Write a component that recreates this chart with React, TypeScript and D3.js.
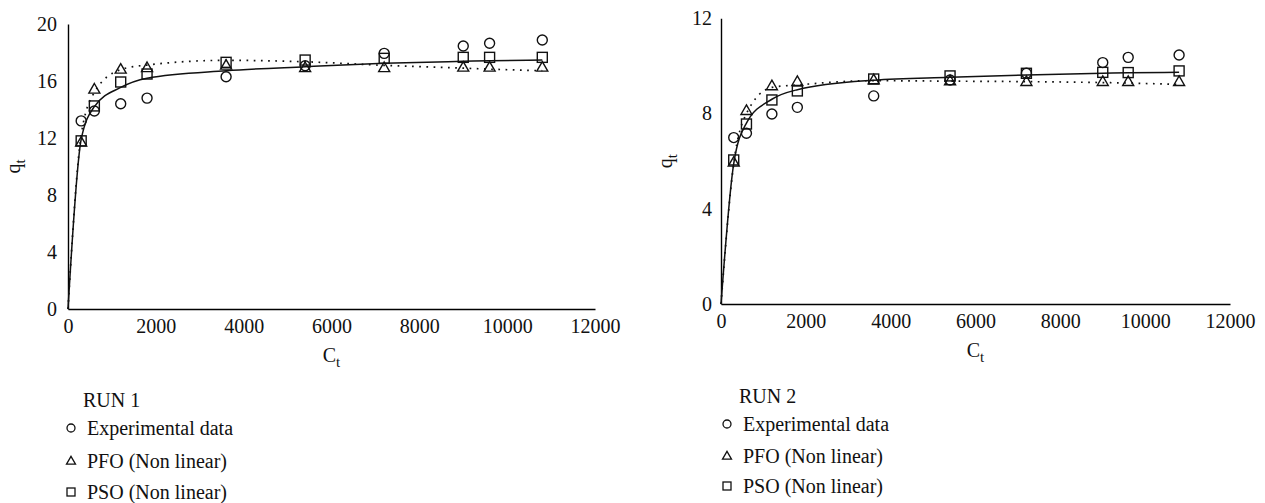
import React, { useEffect, useRef } from 'react';
import * as d3 from 'd3';

// sampling times (x) of the markers
const times = [300, 600, 1200, 1800, 3600, 5400, 7200, 9000, 9600, 10800];

// RUN 1
const run1Exp = [13.2, 13.9, 14.4, 14.8, 16.3, 17.07, 17.94, 18.46, 18.65, 18.88];
const run1Pfo = [11.7, 15.42, 16.82, 16.93, 17.1, 16.93, 16.93, 16.96, 16.96, 16.96];
const run1Pso = [11.8, 14.25, 15.93, 16.49, 17.31, 17.47, 17.59, 17.66, 17.66, 17.66];

// RUN 2
const run2Exp = [6.99, 7.17, 7.98, 8.26, 8.74, 9.41, 9.69, 10.14, 10.36, 10.46];
const run2Pfo = [5.95, 8.12, 9.16, 9.34, 9.41, 9.37, 9.34, 9.34, 9.34, 9.34];
const run2Pso = [6.05, 7.56, 8.57, 8.95, 9.45, 9.58, 9.69, 9.73, 9.72, 9.79];

// fitted lines
const curveTimes = [0, 300, 600, 1200, 1800, 3600, 5400, 7200, 9000, 9600, 10800];
const run1PsoLine = [0, 11.9, 14.2, 15.55, 16.2, 16.72, 17.0, 17.24, 17.38, 17.42, 17.47];
const run1PfoLine = [0, 12.2, 15.2, 16.8, 17.12, 17.45, 17.35, 17.1, 16.9, 16.83, 16.72];
const run2PsoLine = [0, 5.9, 7.6, 8.6, 9.0, 9.4, 9.52, 9.62, 9.69, 9.71, 9.73];
const run2PfoLine = [0, 5.9, 8.0, 9.1, 9.2, 9.38, 9.36, 9.34, 9.3, 9.28, 9.22];

const xTicks = [0, 2000, 4000, 6000, 8000, 10000, 12000];
const run1YTicks = [0, 4, 8, 12, 16, 20];
const run2YTicks = [0, 4, 8, 12];

const legendLabels = ['Experimental data', 'PFO (Non linear)', 'PSO (Non linear)'];

const FONT = '"Liberation Serif", "Times New Roman", serif';
const FS = 20;

function drawMarker(g, kind, cx, cy, s) {
  if (kind === 'circle') {
    g.append('circle').attr('cx', cx).attr('cy', cy).attr('r', s / 2);
  } else if (kind === 'square') {
    g.append('rect').attr('x', cx - s / 2).attr('y', cy - s / 2).attr('width', s).attr('height', s);
  } else {
    const h = s * 0.87;
    g.append('path').attr(
      'd',
      `M${cx},${cy - h * 0.6}L${cx + s / 2},${cy + h * 0.4}L${cx - s / 2},${cy + h * 0.4}Z`
    );
  }
}

function drawPanel(svg, p) {
  const x = d3.scaleLinear().domain([0, 12000]).range([p.x0, p.x1]);
  const y = d3.scaleLinear().domain([0, p.yMax]).range([p.yBottom, p.yTop]);
  const root = svg.append('g');

  root
    .append('g')
    .attr('transform', `translate(0,${p.yBottom})`)
    .call(d3.axisBottom(x).tickValues(xTicks).tickFormat(d3.format('d')).tickSize(0).tickSizeOuter(0).tickPadding(10))
    .call((g) => g.select('.domain').attr('stroke', '#000').attr('stroke-width', 1.4))
    .call((g) => g.selectAll('text').attr('font-family', FONT).attr('font-size', FS).attr('fill', '#111'));

  root
    .append('g')
    .attr('transform', `translate(${p.x0},0)`)
    .call(d3.axisLeft(y).tickValues(p.yTicks).tickSize(0).tickSizeOuter(0).tickPadding(p.yPad))
    .call((g) => g.select('.domain').attr('stroke', '#000').attr('stroke-width', 1.4))
    .call((g) => g.selectAll('text').attr('font-family', FONT).attr('font-size', FS).attr('fill', '#111'));

  // axis titles
  const xt = root
    .append('text')
    .attr('x', (p.x0 + p.x1) / 2)
    .attr('y', p.yBottom + 53)
    .attr('text-anchor', 'middle')
    .attr('font-family', FONT)
    .attr('font-size', FS)
    .attr('fill', '#111');
  xt.append('tspan').text('C');
  xt.append('tspan').attr('font-size', 15).attr('dy', 5).text('t');

  const yt = root
    .append('text')
    .attr('transform', `translate(${p.qx},${(p.yTop + p.yBottom) / 2}) rotate(-90)`)
    .attr('text-anchor', 'middle')
    .attr('font-family', FONT)
    .attr('font-size', FS)
    .attr('fill', '#111');
  yt.append('tspan').text('q');
  yt.append('tspan').attr('font-size', 15).attr('dy', 5).text('t');

  const line = d3
    .line()
    .x((d) => x(d[0]))
    .y((d) => y(d[1]))
    .curve(d3.curveMonotoneX);

  root
    .append('path')
    .datum(curveTimes.map((t, i) => [t, p.pfoLine[i]]))
    .attr('d', line)
    .attr('fill', 'none')
    .attr('stroke', '#111')
    .attr('stroke-width', 1.7)
    .attr('stroke-dasharray', '1.7,5.5');

  root
    .append('path')
    .datum(curveTimes.map((t, i) => [t, p.psoLine[i]]))
    .attr('d', line)
    .attr('fill', 'none')
    .attr('stroke', '#111')
    .attr('stroke-width', 1.5);

  const marks = root.append('g').attr('fill', 'none').attr('stroke', '#111').attr('stroke-width', 1.4);
  times.forEach((t, i) => drawMarker(marks, 'square', x(t), y(p.pso[i]), 10));
  times.forEach((t, i) => drawMarker(marks, 'triangle', x(t), y(p.pfo[i]), 11));
  times.forEach((t, i) => drawMarker(marks, 'circle', x(t), y(p.exp[i]), 10));

  // legend
  const lg = root.append('g').attr('font-family', FONT).attr('font-size', FS).attr('fill', '#111');
  lg.append('text').attr('x', p.lx + 12).attr('y', p.ly + 7).text(p.run);
  const kinds = ['circle', 'triangle', 'square'];
  const sizes = [8, 9, 8];
  const lm = lg.append('g').attr('fill', 'none').attr('stroke', '#111').attr('stroke-width', 1.3);
  legendLabels.forEach((lab, i) => {
    const cy = p.ly + p.lgap[i];
    drawMarker(lm, kinds[i], p.lx, cy, sizes[i]);
    lg.append('text').attr('x', p.lx + 16).attr('y', cy + 7).text(lab);
  });
}

export default function App() {
  const ref = useRef(null);

  useEffect(() => {
    const svg = d3.select(ref.current);
    svg.selectAll('*').remove();
    drawPanel(svg, {
      x0: 68, x1: 595, yTop: 24, yBottom: 309, yMax: 20, yTicks: run1YTicks, yPad: 11, qx: 20,
      exp: run1Exp, pfo: run1Pfo, pso: run1Pso, psoLine: run1PsoLine, pfoLine: run1PfoLine,
      run: 'RUN 1', lx: 71, ly: 400, lgap: [28, 61, 92],
    });
    drawPanel(svg, {
      x0: 721, x1: 1230, yTop: 18.3, yBottom: 304, yMax: 12, yTicks: run2YTicks, yPad: 9, qx: 672,
      exp: run2Exp, pfo: run2Pfo, pso: run2Pso, psoLine: run2PsoLine, pfoLine: run2PfoLine,
      run: 'RUN 2', lx: 727, ly: 396, lgap: [28, 60, 90],
    });
  }, []);

  return (
    <svg
      ref={ref}
      width={1265}
      height={503}
      style={{ position: 'absolute', left: 0, top: 0, background: '#fff' }}
    />
  );
}
